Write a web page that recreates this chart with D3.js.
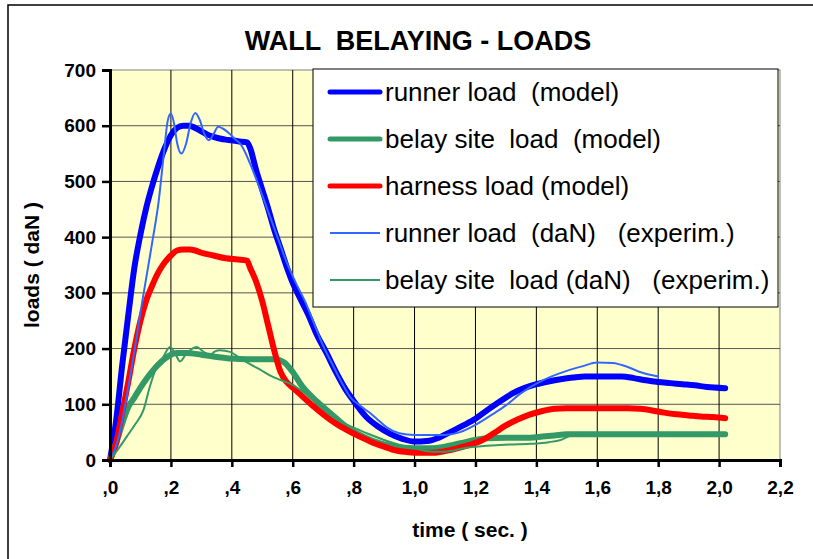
<!DOCTYPE html>
<html>
<head>
<meta charset="utf-8">
<script src="https://cdn.jsdelivr.net/npm/d3@7"></script>
<style>
  body { margin: 0; background: #fff; }
  text { font-family: "Liberation Sans", Arial, sans-serif; }
</style>
</head>
<body>
<div id="chart"></div>
<script>
// values: [time (s), load (daN)]
const runnerModel = [
  [0, 0], [0.02, 70], [0.04, 170], [0.06, 260], [0.08, 345], [0.1, 405], [0.12, 455], [0.14, 495],
  [0.16, 530], [0.18, 560], [0.2, 583], [0.22, 596], [0.24, 600], [0.26, 600], [0.28, 596], [0.3, 590],
  [0.32, 584], [0.34, 580], [0.36, 577], [0.38, 575], [0.4, 574], [0.42, 572], [0.45, 570], [0.46, 560],
  [0.48, 520], [0.5, 485], [0.52, 450], [0.54, 412], [0.56, 380], [0.58, 347], [0.6, 318], [0.62, 295],
  [0.65, 262], [0.68, 224], [0.71, 193], [0.74, 160], [0.77, 130], [0.8, 106], [0.84, 78], [0.88, 60],
  [0.92, 47], [0.96, 38], [1.0, 33], [1.04, 34], [1.08, 40], [1.12, 51], [1.16, 62], [1.2, 74],
  [1.24, 90], [1.28, 105], [1.32, 119], [1.36, 129], [1.4, 136], [1.44, 141], [1.48, 145], [1.52, 148],
  [1.56, 150], [1.6, 150], [1.64, 150], [1.68, 150], [1.72, 147], [1.76, 143], [1.8, 140], [1.84, 138],
  [1.88, 136], [1.92, 134], [1.96, 131], [2.02, 129]
];

const belayModel = [
  [0, 0], [0.02, 30], [0.04, 65], [0.06, 95], [0.08, 112], [0.1, 130], [0.12, 146], [0.14, 160],
  [0.16, 172], [0.18, 182], [0.2, 189], [0.22, 192], [0.25, 192], [0.3, 189], [0.35, 185], [0.4, 182],
  [0.45, 181], [0.5, 181], [0.54, 181], [0.57, 176], [0.6, 158], [0.63, 133], [0.66, 115], [0.7, 95],
  [0.74, 76], [0.78, 58], [0.82, 45], [0.86, 35], [0.9, 28], [0.95, 23], [1.0, 21], [1.05, 21],
  [1.1, 24], [1.15, 30], [1.2, 36], [1.24, 39], [1.3, 40], [1.38, 40], [1.42, 42], [1.46, 44],
  [1.5, 46], [1.7, 46], [1.9, 46], [2.02, 46]
];

const harnessModel = [
  [0, 0], [0.02, 30], [0.04, 85], [0.06, 140], [0.08, 200], [0.1, 250], [0.12, 288], [0.14, 315],
  [0.16, 338], [0.18, 355], [0.2, 367], [0.22, 376], [0.24, 378], [0.26, 378], [0.28, 376], [0.3, 372],
  [0.34, 367], [0.38, 362], [0.42, 360], [0.45, 358], [0.46, 345], [0.48, 320], [0.5, 285], [0.52, 240],
  [0.54, 195], [0.56, 158], [0.58, 140], [0.6, 130], [0.62, 120], [0.66, 100], [0.7, 82], [0.74, 66],
  [0.78, 53], [0.82, 42], [0.86, 32], [0.9, 24], [0.94, 17], [0.98, 14], [1.02, 13], [1.06, 13],
  [1.1, 16], [1.14, 21], [1.18, 27], [1.22, 35], [1.26, 48], [1.3, 62], [1.34, 73], [1.38, 82],
  [1.42, 88], [1.46, 92], [1.5, 93], [1.6, 93], [1.7, 93], [1.74, 92], [1.78, 89], [1.82, 85],
  [1.86, 82], [1.9, 80], [1.94, 78], [1.98, 77], [2.02, 75]
];

const runnerExp = [
  [0, 0], [0.02, 25], [0.04, 70], [0.06, 130], [0.08, 195], [0.1, 265], [0.12, 330], [0.14, 395],
  [0.16, 465], [0.175, 540], [0.19, 610], [0.2, 622], [0.21, 605], [0.22, 570], [0.235, 550], [0.25, 568],
  [0.265, 605], [0.28, 623], [0.295, 610], [0.31, 585], [0.325, 574], [0.34, 585], [0.355, 598], [0.37, 595],
  [0.39, 587], [0.41, 576], [0.43, 566], [0.46, 532], [0.49, 490], [0.52, 445], [0.55, 400], [0.58, 355],
  [0.61, 318], [0.64, 285], [0.67, 245], [0.7, 205], [0.73, 172], [0.76, 140], [0.79, 112], [0.82, 98],
  [0.85, 86], [0.88, 72], [0.91, 58], [0.95, 48], [1.0, 45], [1.05, 45], [1.1, 45], [1.15, 50],
  [1.2, 63], [1.25, 80], [1.3, 98], [1.35, 120], [1.4, 137], [1.45, 150], [1.5, 160], [1.55, 168],
  [1.6, 175], [1.65, 174], [1.7, 167], [1.74, 158], [1.8, 150]
];

const belayExp = [
  [0, 0], [0.03, 22], [0.055, 42], [0.08, 62], [0.11, 90], [0.13, 130], [0.15, 163], [0.175, 185],
  [0.197, 203], [0.215, 190], [0.23, 177], [0.25, 190], [0.27, 200], [0.285, 203], [0.305, 195], [0.328, 189],
  [0.345, 195], [0.361, 197], [0.394, 194], [0.427, 183], [0.46, 172], [0.493, 162], [0.525, 152], [0.558, 144],
  [0.6, 135], [0.64, 120], [0.68, 102], [0.73, 78], [0.8, 58], [0.843, 48], [0.9, 36], [0.952, 27],
  [1.0, 21], [1.06, 15], [1.1, 15], [1.17, 22], [1.28, 27], [1.38, 29], [1.44, 32], [1.48, 36],
  [1.52, 45], [1.56, 46]
];

const xTickValues = [0, 0.2, 0.4, 0.6, 0.8, 1.0, 1.2, 1.4, 1.6, 1.8, 2.0, 2.2];
const xTickLabels = [",0", ",2", ",4", ",6", ",8", "1,0", "1,2", "1,4", "1,6", "1,8", "2,0", "2,2"];
const yTickValues = [0, 100, 200, 300, 400, 500, 600, 700];

const seriesNames = [
  "runner load  (model)",
  "belay site  load  (model)",
  "harness load (model)",
  "runner load  (daN)   (experim.)",
  "belay site  load (daN)   (experim.)"
];

const width = 813, height = 559;
const plot = { l: 110, t: 70, r: 780, b: 460 };

const series = [
  { name: seriesNames[0], values: runnerModel, color: "#0000ff", w: 6 },
  { name: seriesNames[1], values: belayModel, color: "#339966", w: 6 },
  { name: seriesNames[2], values: harnessModel, color: "#ff0000", w: 6 },
  { name: seriesNames[3], values: runnerExp, color: "#3366ff", w: 2 },
  { name: seriesNames[4], values: belayExp, color: "#339966", w: 2 }
];

const x = d3.scaleLinear().domain([0, 2.2]).range([plot.l, plot.r]);
const y = d3.scaleLinear().domain([0, 700]).range([plot.b, plot.t]);

const svg = d3.select("#chart").append("svg")
  .attr("width", width)
  .attr("height", height);

svg.append("rect")
  .attr("width", width).attr("height", height)
  .attr("fill", "#fff");

// outer frame (runs off the right and bottom of the picture)
svg.append("rect")
  .attr("x", 8).attr("y", 5)
  .attr("width", 900).attr("height", 700)
  .attr("fill", "none")
  .attr("stroke", "#000")
  .attr("stroke-width", 1.5);

// plot background
svg.append("rect")
  .attr("x", plot.l).attr("y", plot.t)
  .attr("width", plot.r - plot.l).attr("height", plot.b - plot.t)
  .attr("fill", "#ffffcc")
  .attr("stroke", "#808080")
  .attr("stroke-width", 1);

// grid
svg.append("g")
  .selectAll("line")
  .data(yTickValues.filter(v => v > 0 && v < 700))
  .join("line")
  .attr("x1", plot.l).attr("x2", plot.r)
  .attr("y1", d => y(d)).attr("y2", d => y(d))
  .attr("stroke", "#555")
  .attr("stroke-width", 1);

svg.append("g")
  .selectAll("line")
  .data(xTickValues.filter(v => v > 0 && v < 2.2))
  .join("line")
  .attr("x1", d => x(d)).attr("x2", d => x(d))
  .attr("y1", plot.t).attr("y2", plot.b)
  .attr("stroke", "#000")
  .attr("stroke-width", 1);

// series
const line = d3.line()
  .x(d => x(d[0]))
  .y(d => y(d[1]))
  .curve(d3.curveMonotoneX);

svg.append("g")
  .selectAll("path")
  .data(series)
  .join("path")
  .attr("d", d => line(d.values))
  .attr("fill", "none")
  .attr("stroke", d => d.color)
  .attr("stroke-width", d => d.w)
  .attr("stroke-linejoin", "round")
  .attr("stroke-linecap", "round");

// axes
const yAxis = d3.axisLeft(y)
  .tickValues(yTickValues)
  .tickSize(8)
  .tickPadding(6);

const gy = svg.append("g")
  .attr("transform", `translate(${plot.l},0)`)
  .call(yAxis);

const xAxis = d3.axisBottom(x)
  .tickValues(xTickValues)
  .tickFormat((d, i) => xTickLabels[i])
  .tickSize(7)
  .tickPadding(14);

const gx = svg.append("g")
  .attr("transform", `translate(0,${plot.b})`)
  .call(xAxis);

[gx, gy].forEach(g => {
  g.select(".domain").attr("stroke", "#000").attr("stroke-width", 3);
  g.selectAll(".tick line").attr("stroke", "#000").attr("stroke-width", 2.5);
  g.selectAll(".tick text")
    .attr("fill", "#000")
    .style("font-size", "19px")
    .style("font-weight", "bold")
    .style("font-family", "'Liberation Sans', Arial, sans-serif");
});

// title and axis titles
svg.append("text")
  .attr("x", 418).attr("y", 50)
  .attr("text-anchor", "middle")
  .style("font-size", "27px")
  .style("font-weight", "bold")
  .style("white-space", "pre")
  .text("WALL  BELAYING - LOADS");

svg.append("text")
  .attr("x", 470).attr("y", 537)
  .attr("text-anchor", "middle")
  .style("font-size", "21px")
  .style("font-weight", "bold")
  .text("time ( sec. )");

svg.append("text")
  .attr("transform", "translate(39,265) rotate(-90)")
  .attr("text-anchor", "middle")
  .style("font-size", "21px")
  .style("font-weight", "bold")
  .text("loads ( daN )");

// legend
const legend = svg.append("g");
legend.append("rect")
  .attr("x", 313).attr("y", 69)
  .attr("width", 465).attr("height", 238)
  .attr("fill", "#fff")
  .attr("stroke", "#000")
  .attr("stroke-width", 1);

const rowY = d3.scalePoint().domain(seriesNames).range([92, 280]);

const item = legend.selectAll("g")
  .data(series)
  .join("g")
  .attr("transform", d => `translate(0,${rowY(d.name)})`);

item.append("line")
  .attr("x1", 330).attr("x2", 380)
  .attr("stroke", d => d.color)
  .attr("stroke-width", d => d.w === 2 ? 2 : 5)
  .attr("stroke-linecap", d => d.w === 2 ? "butt" : "round");

item.append("text")
  .attr("x", 385)
  .attr("dy", "0.35em")
  .style("font-size", "26px")
  .style("white-space", "pre")
  .text(d => d.name);
</script>
</body>
</html>
